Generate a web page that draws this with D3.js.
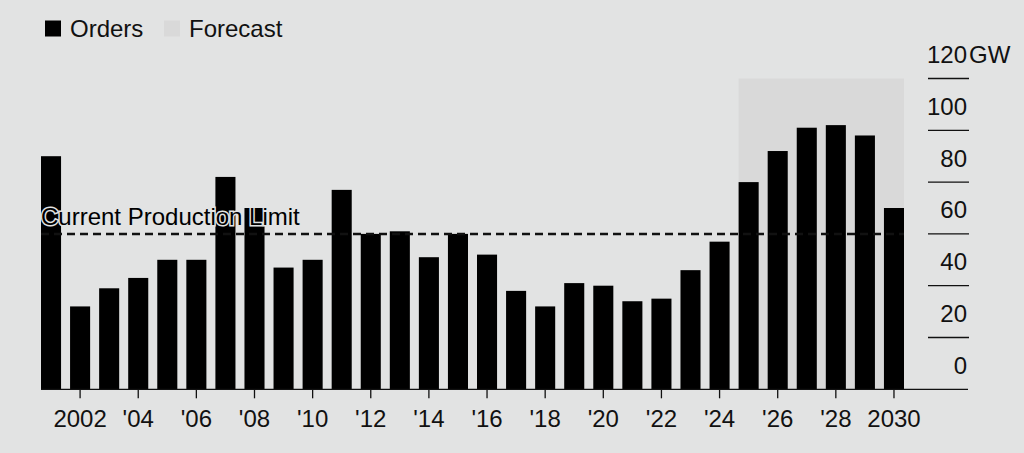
<!DOCTYPE html>
<html>
<head>
<meta charset="utf-8">
<script src="https://cdn.jsdelivr.net/npm/d3@7"></script>
<style>
    body { margin: 0; background: #e2e3e3; }
    svg { display: block; font-family: "Liberation Sans", Arial, sans-serif; }
</style>
</head>
<body>
<div id="chart"></div>
<script>
// data (GW of orders per year)
var years = d3.range(2001, 2031);
var orders = [90, 32, 39, 43, 50, 50, 82, 70, 47, 50, 77, 60, 61, 51, 60, 52, 38, 32, 41, 40,
    34, 35, 46, 57, 80, 92, 101, 102, 98, 70];
var forecastYears = [2025, 2030];
var productionLimit = 60;
var yTicks = [0, 20, 40, 60, 80, 100, 120];
var xTicks = d3.range(2002, 2031, 2);

var width = 1024, height = 453;
var bg = "#e2e3e3";
var fontSize = 24;

var svg = d3.select("#chart").append("svg")
    .attr("width", width)
    .attr("height", height);

svg.append("rect").attr("width", width).attr("height", height).attr("fill", bg);

var xScale = d3.scaleBand()
    .domain(years)
    .range([41, 904])
    .paddingInner(0.31)
    .paddingOuter(0);

var yScale = d3.scaleLinear()
    .domain([0, 120])
    .range([389.3, 78.5]);

// forecast shading
svg.append("rect")
    .attr("x", xScale(forecastYears[0]))
    .attr("y", yScale(120))
    .attr("width", xScale(forecastYears[1]) + xScale.bandwidth() - xScale(forecastYears[0]))
    .attr("height", yScale(0) - yScale(120))
    .attr("fill", "#d9d9d9");

// bars
svg.selectAll(".bar")
    .data(years)
    .enter()
    .append("rect")
    .attr("class", "bar")
    .attr("x", function (d) { return xScale(d); })
    .attr("y", function (d, i) { return yScale(orders[i]); })
    .attr("width", xScale.bandwidth())
    .attr("height", function (d, i) { return yScale(0) - yScale(orders[i]); })
    .attr("fill", "#000");

// production limit line
svg.append("line")
    .attr("x1", 41)
    .attr("x2", 904)
    .attr("y1", yScale(productionLimit))
    .attr("y2", yScale(productionLimit))
    .attr("stroke", "#111")
    .attr("stroke-width", 2.5)
    .attr("stroke-dasharray", "8,5");

svg.append("text")
    .attr("x", 41)
    .attr("y", 225)
    .attr("font-size", fontSize)
    .attr("fill", "#000")
    .attr("stroke", bg)
    .attr("stroke-width", 3)
    .attr("paint-order", "stroke")
    .text("Current Production Limit");

// baseline
svg.append("line")
    .attr("x1", 41)
    .attr("x2", 968)
    .attr("y1", yScale(0))
    .attr("y2", yScale(0))
    .attr("stroke", "#111")
    .attr("stroke-width", 1.3);

// x axis
var xAxis = d3.axisBottom(xScale)
    .tickValues(xTicks)
    .tickSize(9)
    .tickPadding(12)
    .tickFormat(function (d) {
        if (d === 2002 || d === 2030) return String(d);
        return "'" + String(d).slice(2);
    });

var gx = svg.append("g")
    .attr("transform", "translate(0," + yScale(0) + ")")
    .call(xAxis);
gx.select(".domain").remove();
gx.selectAll(".tick line").attr("stroke", "#111").attr("stroke-width", 1.3);
gx.selectAll(".tick text")
    .attr("font-size", fontSize)
    .attr("font-family", "Liberation Sans, Arial, sans-serif")
    .attr("fill", "#111");

// y axis on the right
var gy = svg.append("g");
gy.selectAll(".ytick")
    .data(yTicks.filter(function (d) { return d > 0; }))
    .enter()
    .append("line")
    .attr("x1", 928)
    .attr("x2", 969)
    .attr("y1", function (d) { return yScale(d); })
    .attr("y2", function (d) { return yScale(d); })
    .attr("stroke", "#111")
    .attr("stroke-width", 1.3);

gy.selectAll(".ylabel")
    .data(yTicks)
    .enter()
    .append("text")
    .attr("x", 967)
    .attr("y", function (d) { return yScale(d) - 15.5; })
    .attr("text-anchor", "end")
    .attr("font-size", fontSize)
    .attr("fill", "#111")
    .text(function (d) { return d; });

gy.append("text")
    .attr("x", 969)
    .attr("y", yScale(120) - 15.5)
    .attr("font-size", fontSize)
    .attr("fill", "#111")
    .text("GW");

// legend
var legend = svg.append("g");
legend.append("rect").attr("x", 45).attr("y", 20.5).attr("width", 16).attr("height", 16).attr("fill", "#000");
legend.append("text").attr("x", 70).attr("y", 36.5).attr("font-size", fontSize).attr("fill", "#111").text("Orders");
legend.append("rect").attr("x", 164).attr("y", 20.5).attr("width", 16).attr("height", 16).attr("fill", "#d9d9d9");
legend.append("text").attr("x", 189).attr("y", 36.5).attr("font-size", fontSize).attr("fill", "#111").text("Forecast");
</script>
</body>
</html>
